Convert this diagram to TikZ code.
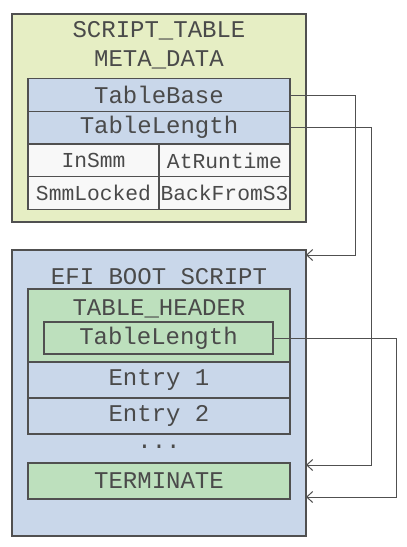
\documentclass[tikz,border=0pt]{standalone}
\usepackage{fontspec}
\setmonofont{Liberation Mono}
\usetikzlibrary{arrows.meta}

\definecolor{metafill}{HTML}{E6EEC4}
\definecolor{bluefill}{HTML}{C9D7EA}
\definecolor{greenfill}{HTML}{BDE0BD}
\definecolor{cellfill}{HTML}{F8F8F8}
\definecolor{linegray}{HTML}{505050}
\definecolor{textgray}{HTML}{4A4A4A}

\tikzset{
  box/.style={draw=linegray, line width=1.1pt, inner sep=0pt, anchor=center},
  row/.style={box, minimum width=262pt, minimum height=32.5pt},
  cell/.style={box, fill=cellfill, minimum width=131pt, minimum height=32.5pt, font=\ttfamily\fontsize{21.3}{21.3}\selectfont},
  title/.style={inner sep=0pt, font=\ttfamily\fontsize{24}{24}\selectfont},
  link/.style={draw=linegray, line width=1pt, -{Straight Barb[length=6pt,width=11pt,line width=1pt]}}
}

\begin{document}
\begin{tikzpicture}[x=1pt, y=-1pt, text=textgray, font=\ttfamily\fontsize{24}{24}\selectfont]
\useasboundingbox[fill=white] (0,0) rectangle (407,547);

% The meta data table
\node[box, fill=metafill, minimum width=294pt, minimum height=208pt] (meta) at (159,118) {};
\node[title] (metatitle1) at (159,31) {SCRIPT\_TABLE};
\node[title] (metatitle2) at (159,60) {META\_DATA};
\node[row, fill=bluefill] (tbase) at (159,95) {TableBase};
\node[row, fill=bluefill] (tlen) at (159,127.5) {TableLength};
\node[cell] (insmm) at (93.5,160.5) {InSmm};
\node[cell] (atrun) at (224.5,160.5) {AtRuntime};
\node[cell] (smmlock) at (93.5,193) {SmmLocked};
\node[cell] (backs3) at (224.5,193) {BackFromS3};

% The boot script
\node[box, fill=bluefill, minimum width=294pt, minimum height=286pt] (boot) at (159,393) {};
\node[title] (boottitle) at (159,277) {EFI BOOT SCRIPT};
\node[row, fill=greenfill, minimum height=73pt] (header) at (159,325.5) {};
\node[title] (headtitle) at (159,309) {TABLE\_HEADER};
\node[box, fill=greenfill, minimum width=229pt, minimum height=32pt] (hlen) at (158.5,338) {TableLength};
\node[row, fill=bluefill, minimum height=36pt] (entry1) at (159,380) {Entry 1};
\node[row, fill=bluefill, minimum height=36pt] (entry2) at (159,416) {Entry 2};
\node[inner sep=0pt] (dots) at (159,447) {...};
\node[row, fill=greenfill, minimum height=36pt] (term) at (159,481) {TERMINATE};

% The pointers
\coordinate (in1) at (306,255);
\coordinate (in2) at (306,465);
\coordinate (in3) at (306,497);
\draw[link] (tbase.east) -- ++(65,0) |- (in1);
\draw[link] (tlen.east) -- ++(81,0) |- (in2);
\draw[link] (hlen.east) -- ++(123,0) |- (in3);

\end{tikzpicture}
\end{document}
